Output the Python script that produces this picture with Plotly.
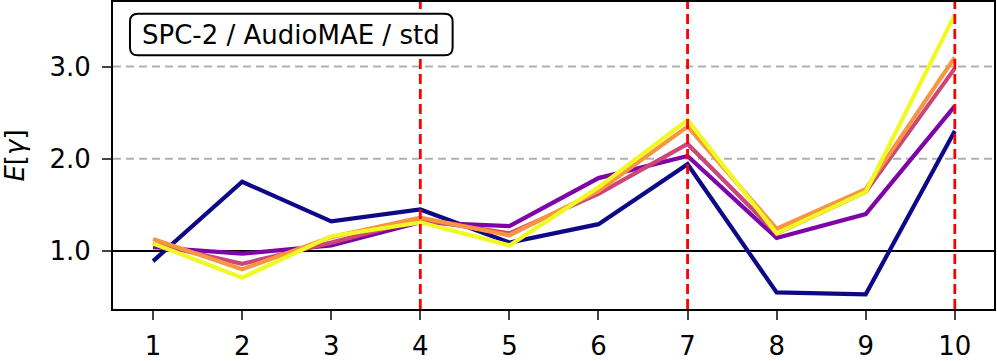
import plotly.graph_objects as go

# layer index on the x axis
layers = [1, 2, 3, 4, 5, 6, 7, 8, 9, 10]

# E[gamma] per run
run_a = [0.89, 1.75, 1.32, 1.45, 1.09, 1.29, 1.94, 0.55, 0.53, 2.30]
run_b = [1.04, 0.97, 1.06, 1.31, 1.27, 1.79, 2.03, 1.14, 1.40, 2.57]
run_c = [1.08, 0.86, 1.09, 1.34, 1.19, 1.62, 2.16, 1.19, 1.64, 2.98]
run_d = [1.13, 0.80, 1.15, 1.36, 1.17, 1.65, 2.35, 1.24, 1.67, 3.10]
run_e = [1.08, 0.71, 1.16, 1.31, 1.06, 1.69, 2.42, 1.19, 1.64, 3.56]

runs = [run_a, run_b, run_c, run_d, run_e]
colors = ['#0d0887', '#7e03a8', '#cc4778', '#f89540', '#f0f921']

block_ends = [4, 7, 10]
grid_levels = [2.0, 3.0]
y_ticks = [1.0, 2.0, 3.0]
y_labels = ['1.0', '2.0', '3.0']

x_range = [0.55, 10.44]
y_range = [0.37, 3.70]

fig = go.Figure()

# reference lines below the data
for g in grid_levels:
    fig.add_shape(type='line', xref='paper', x0=0, x1=1, yref='y', y0=g, y1=g,
                  line=dict(color='#b0b0b0', width=2, dash='8px,5px'), layer='below')
fig.add_shape(type='line', xref='paper', x0=0, x1=1, yref='y', y0=1.0, y1=1.0,
              line=dict(color='black', width=2), layer='below')

for vals, c in zip(runs, colors):
    fig.add_trace(go.Scatter(x=layers, y=vals, mode='lines',
                             line=dict(color=c, width=4.2), showlegend=False))

for b in block_ends:
    fig.add_shape(type='line', xref='x', x0=b, x1=b, yref='paper', y0=0, y1=1,
                  line=dict(color='#ff0000', width=2.8, dash='10px,5px'), layer='above')

# rounded box behind the label (paper coords, plot is ~882 x 311 px)
pw, ph = 882.0, 311.0
x0, x1 = (129 - 112) / pw, (452 - 112) / pw
y1, y0 = 1 - (13 - 1) / ph, 1 - (55 - 1) / ph
rx, ry = 8 / pw, 8 / ph
path = (f'M {x0+rx},{y0} L {x1-rx},{y0} Q {x1},{y0} {x1},{y0+ry} '
        f'L {x1},{y1-ry} Q {x1},{y1} {x1-rx},{y1} L {x0+rx},{y1} '
        f'Q {x0},{y1} {x0},{y1-ry} L {x0},{y0+ry} Q {x0},{y0} {x0+rx},{y0} Z')
fig.add_shape(type='path', xref='paper', yref='paper', path=path,
              line=dict(color='black', width=2), fillcolor='white', layer='above')
fig.add_annotation(x=(x0 + x1) / 2, y=(y0 + y1) / 2, xref='paper', yref='paper',
                   xanchor='center', yanchor='middle',
                   text='SPC-2 / AudioMAE / std', showarrow=False,
                   font=dict(family='DejaVu Sans', size=26, color='black'))

fig.update_layout(
    width=997, height=361,
    margin=dict(l=113, r=3, t=0, b=49),
    plot_bgcolor='white', paper_bgcolor='white',
    font=dict(family='DejaVu Sans', size=26, color='black'),
    xaxis=dict(range=x_range, tickvals=layers, ticks='outside', ticklen=9,
               tickwidth=2, showgrid=False, zeroline=False, showline=True,
               linecolor='black', linewidth=2, mirror=True,
               tickfont=dict(size=26), ticklabelstandoff=4),
    yaxis=dict(range=y_range, tickvals=y_ticks, ticktext=y_labels,
               ticks='outside', ticklen=9, tickwidth=2, showgrid=False,
               zeroline=False, showline=True, linecolor='black', linewidth=2,
               mirror=True, tickfont=dict(size=26), ticklabelstandoff=6,
               automargin=False,
               title=dict(text='<i>E</i>[<i>γ</i>]', font=dict(size=26), standoff=17)),
)

fig.write_html("out.html", config=dict(displayModeBar=False),
               post_script="document.body.style.margin='0';")
